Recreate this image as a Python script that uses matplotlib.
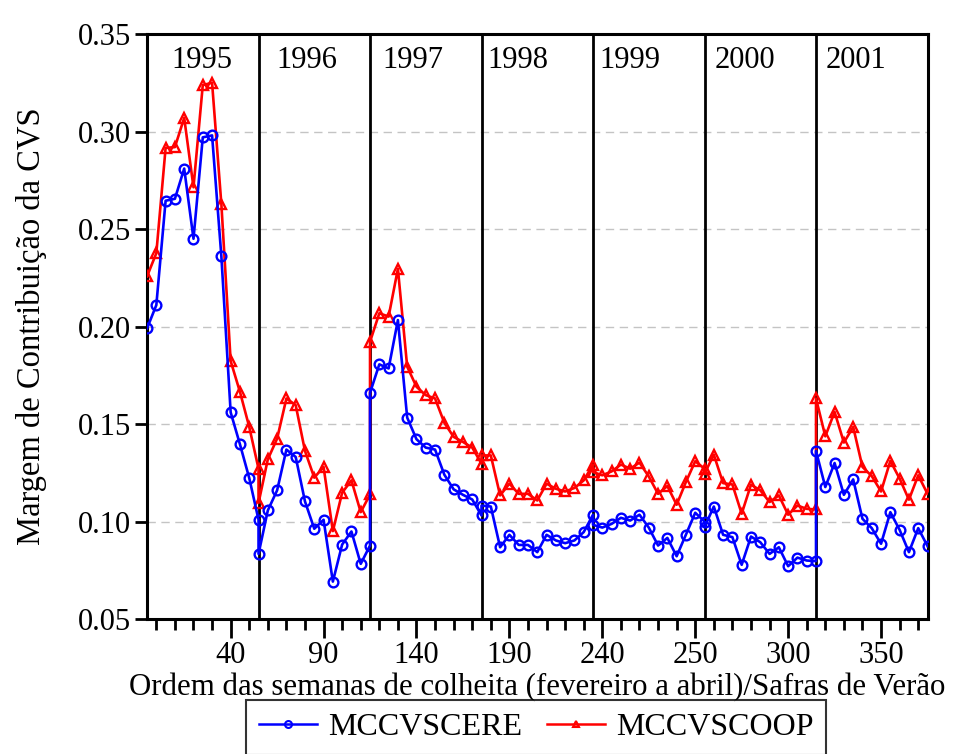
import numpy as np
import matplotlib
matplotlib.use('Agg')
import matplotlib.pyplot as plt
from matplotlib.lines import Line2D

plt.rcParams['font.family'] = ['Liberation Serif', 'DejaVu Serif']

# Safras de verão, 13 semanas cada (a última semana coincide com a primeira da safra seguinte)
safras = ['1995', '1996', '1997', '1998', '1999', '2000', '2001']

cere_1995 = [0.199, 0.211, 0.2645, 0.2655, 0.281, 0.245, 0.297, 0.298, 0.236, 0.156, 0.1396, 0.1223, 0.1009]
cere_1996 = [0.0834, 0.1057, 0.116, 0.1369, 0.1331, 0.1103, 0.0963, 0.1009, 0.0692, 0.0882, 0.0949, 0.0783, 0.0877]
cere_1997 = [0.166, 0.1806, 0.1785, 0.2033, 0.1533, 0.1422, 0.1379, 0.1369, 0.124, 0.1165, 0.1137, 0.1113, 0.1031]
cere_1998 = [0.1082, 0.1077, 0.0868, 0.0932, 0.088, 0.088, 0.0843, 0.0932, 0.0903, 0.0889, 0.0903, 0.0946, 0.1035]
cere_1999 = [0.0983, 0.0969, 0.0988, 0.1019, 0.1005, 0.1035, 0.0969, 0.0877, 0.0916, 0.0822, 0.0933, 0.1045, 0.100]
cere_2000 = [0.0971, 0.1077, 0.0932, 0.092, 0.0778, 0.0923, 0.0894, 0.0834, 0.0868, 0.0771, 0.0815, 0.080, 0.0797]
cere_2001 = [0.1362, 0.1177, 0.130, 0.1137, 0.1216, 0.1014, 0.0966, 0.0886, 0.1048, 0.0957, 0.0843, 0.0966, 0.0874]

coop_1995 = [0.2257, 0.2376, 0.2916, 0.292, 0.307, 0.2714, 0.3238, 0.325, 0.2628, 0.1823, 0.1665, 0.1485, 0.1271]
coop_1996 = [0.1095, 0.1319, 0.1425, 0.1631, 0.1597, 0.1362, 0.1225, 0.128, 0.0951, 0.1148, 0.1211, 0.1048, 0.1139]
coop_1997 = [0.1922, 0.2068, 0.2051, 0.2296, 0.1794, 0.1691, 0.1648, 0.1631, 0.1506, 0.1434, 0.1408, 0.1379, 0.1297]
coop_1998 = [0.1339, 0.1339, 0.1134, 0.1194, 0.1142, 0.1142, 0.1108, 0.1194, 0.1168, 0.1154, 0.1172, 0.1211, 0.1292]
coop_1999 = [0.1254, 0.1237, 0.1257, 0.1292, 0.1271, 0.1302, 0.1231, 0.1142, 0.1182, 0.1086, 0.1203, 0.1309, 0.1271]
coop_2000 = [0.1245, 0.1343, 0.1197, 0.119, 0.104, 0.1189, 0.116, 0.110, 0.1134, 0.1035, 0.1082, 0.1065, 0.1062]
coop_2001 = [0.1631, 0.1437, 0.1562, 0.1405, 0.1485, 0.128, 0.1233, 0.1154, 0.1311, 0.122, 0.1112, 0.1237, 0.1142]

cere = [cere_1995, cere_1996, cere_1997, cere_1998, cere_1999, cere_2000, cere_2001]
coop = [coop_1995, coop_1996, coop_1997, coop_1998, coop_1999, coop_2000, coop_2001]

xtick_labels = ['40', '90', '140', '190', '240', '250', '300', '350']

# posição (em semanas) dos rótulos das safras
safra_label_x = [5.9, 17.2, 28.6, 39.9, 52.0, 64.3, 76.3]

W = 12  # semanas entre inícios de safra
x = np.concatenate([np.arange(len(s)) + W * k for k, s in enumerate(cere)])
y_cere = np.concatenate(cere)
y_coop = np.concatenate(coop)

fig = plt.figure(figsize=(9.56, 7.54), dpi=100)
ax = fig.add_axes([0.1538, 0.179, 0.8164, 0.7759])

ax.set_xlim(0, W * len(safras))
ax.set_ylim(0.05, 0.35)

for yv in [0.10, 0.15, 0.20, 0.25, 0.30]:
    ax.axhline(yv, color='#c4c4c4', lw=1.0, ls=(0, (6, 4)), zorder=0)
for k in range(1, len(safras)):
    ax.axvline(W * k, color='black', lw=2.0, zorder=3)

ax.plot(x, y_coop, color='red', lw=1.9, marker='^', ms=7.5, mfc='none',
        mec='red', mew=1.7, zorder=4)
ax.plot(x, y_cere, color='blue', lw=1.9, marker='o', ms=7, mfc='none',
        mec='blue', mew=1.7, zorder=5)

for lab, xp in zip(safras, safra_label_x):
    ax.text(xp, 0.955, lab, transform=ax.get_xaxis_transform(),
            ha='center', va='center', fontsize=22)

ax.set_yticks(np.arange(0.05, 0.351, 0.05))
ax.set_yticklabels([f'{v:.2f}' for v in np.arange(0.05, 0.351, 0.05)])
ax.set_xticks(np.arange(9, 80, 10))
ax.set_xticklabels(xtick_labels)
ax.set_xticks(np.arange(1, 84, 2), minor=True)

ax.tick_params(axis='both', which='major', labelsize=22, width=2, direction='out')
ax.tick_params(axis='y', length=8.5, pad=3)
ax.tick_params(axis='x', which='major', length=14, pad=2)
ax.tick_params(axis='x', which='minor', length=8, width=2)
for sp in ax.spines.values():
    sp.set_linewidth(2.2)

ax.set_ylabel('Margem de Contribuição da CVS', fontsize=23.5, labelpad=22)
ax.set_xlabel('Ordem das semanas de colheita (fevereiro a abril)/Safras de Verão',
              fontsize=22.2, labelpad=2)

handles = [
    Line2D([], [], color='blue', lw=1.8, marker='o', ms=5, mfc='none', mec='blue', mew=1.5),
    Line2D([], [], color='red', lw=1.8, marker='^', ms=5, mfc='none', mec='red', mew=1.5),
]
leg = fig.legend(handles, ['MCCVSCERE', 'MCCVSCOOP'], loc='upper center',
                 bbox_to_anchor=(0.561, 0.0716), borderaxespad=0, ncol=2,
                 fontsize=23, frameon=True, fancybox=False, edgecolor='black',
                 handlelength=1.8, handletextpad=0.35, columnspacing=0.8,
                 borderpad=0.4)
leg.get_frame().set_linewidth(1.5)

fig.savefig('out.png', dpi=100)
